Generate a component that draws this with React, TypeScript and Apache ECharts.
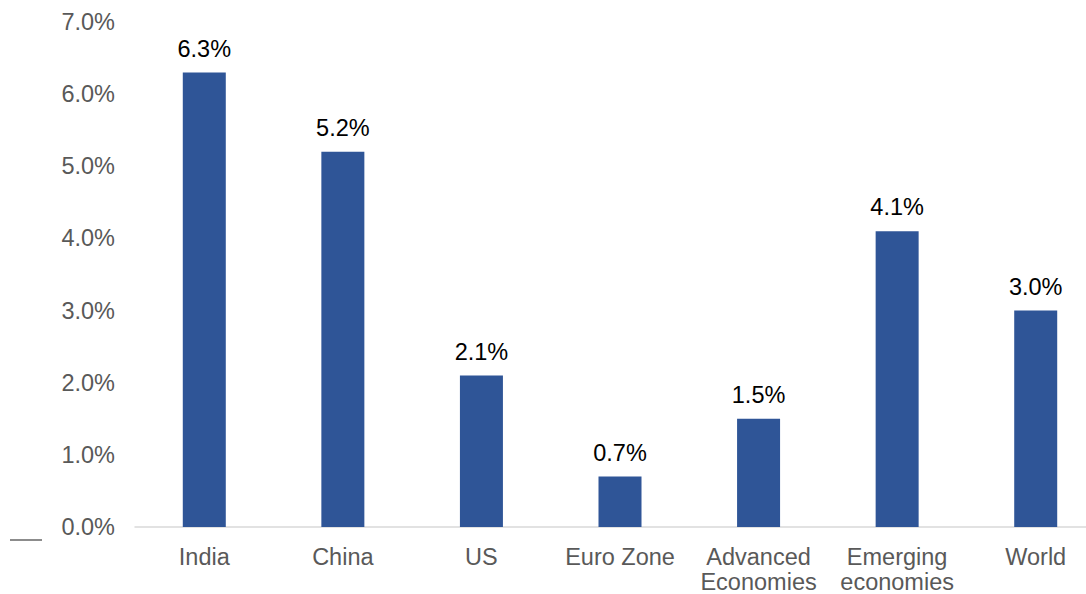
import React, { useEffect, useRef } from "react";
import * as echarts from "echarts";

const categories = ["India", "China", "US", "Euro Zone", "Advanced\nEconomies", "Emerging\neconomies", "World"];
const values = [6.3, 5.2, 2.1, 0.7, 1.5, 4.1, 3.0];

export default function App() {
  const ref = useRef<HTMLDivElement>(null);
  useEffect(() => {
    if (!ref.current) return;
    const chart = echarts.init(ref.current, null, { renderer: "svg" });
    chart.setOption({
      animation: false,
      textStyle: { fontFamily: "Liberation Sans, Arial, sans-serif" },
      grid: { left: 135, right: 0, top: 22, bottom: 66 },
      xAxis: {
        type: "category",
        data: categories,
        axisLine: { lineStyle: { color: "#d9d9d9", width: 1.5 } },
        axisTick: { show: false },
        axisLabel: { color: "#595959", fontSize: 23.5, lineHeight: 25, margin: 17, interval: 0 },
      },
      yAxis: {
        type: "value",
        min: 0,
        max: 7,
        interval: 1,
        splitLine: { show: false },
        axisLine: { show: false },
        axisTick: { show: false },
        axisLabel: { color: "#595959", fontSize: 23.5, margin: 20, formatter: (v: number) => v.toFixed(1) + "%" },
      },
      series: [
        {
          type: "bar",
          data: values,
          barWidth: 43,
          itemStyle: { color: "#2f5597" },
          label: {
            show: true,
            position: "top",
            distance: 12,
            color: "#000",
            fontSize: 23.5,
            formatter: (p: any) => p.value.toFixed(1) + "%",
          },
        },
      ],
      graphic: [
        {
          type: "line",
          shape: { x1: 10, y1: 540, x2: 42, y2: 540 },
          style: { stroke: "#8c8c8c", lineWidth: 2 },
        },
      ],
    });
    return () => chart.dispose();
  }, []);
  return (
    <div style={{ position: "fixed", left: 0, top: 0, width: 1086, height: 594, overflow: "hidden", background: "#fff" }}>
      <div ref={ref} style={{ width: 1105, height: 594 }} />
    </div>
  );
}
